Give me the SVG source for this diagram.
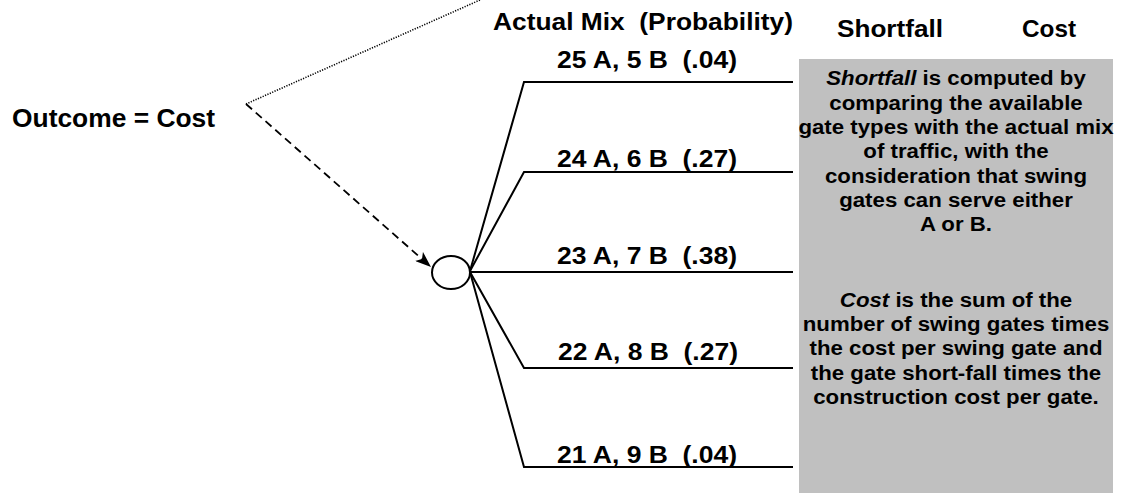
<svg xmlns="http://www.w3.org/2000/svg" width="1124" height="493" viewBox="0 0 1124 493">
<style>
text{font-family:"Liberation Sans",Arial,sans-serif;font-weight:bold;fill:#000;white-space:pre}
.lbl{font-size:24.5px}
.hdr{font-size:24px}
.box{font-size:21px;text-anchor:middle}
.ln{stroke:#000;stroke-width:2;fill:none}
</style>
<defs>
<marker id="ah" viewBox="0 0 16 12" refX="16" refY="6" markerWidth="16" markerHeight="12" markerUnits="userSpaceOnUse" orient="auto">
<path d="M0,0 L16,6 L0,12 L4,6 z" fill="#000"/>
</marker>
</defs>
<rect width="1124" height="493" fill="#fff"/>
<g id="headers">
<text class="hdr" x="493" y="30" textLength="300" lengthAdjust="spacingAndGlyphs">Actual Mix  (Probability)</text>
<text class="hdr" x="837" y="37" textLength="106" lengthAdjust="spacingAndGlyphs">Shortfall</text>
<text class="hdr" x="1022" y="37" textLength="54" lengthAdjust="spacingAndGlyphs">Cost</text>
</g>
<g id="outcome">
<text x="12" y="127" style="font-size:25.5px" textLength="203" lengthAdjust="spacingAndGlyphs">Outcome = Cost</text>
</g>
<g id="connectors">
<line x1="246" y1="104" x2="480" y2="0" stroke="#000" stroke-width="1.6" stroke-dasharray="1.2 1.4"/>
<line x1="246" y1="104" x2="431" y2="267" stroke="#000" stroke-width="1.8" stroke-dasharray="8 5" marker-end="url(#ah)"/>
<polyline class="ln" points="470,271 524,82 793,82"/>
<polyline class="ln" points="470,271 524,172 793,172"/>
<polyline class="ln" points="470,272 793,272"/>
<polyline class="ln" points="470,272 524,368 793,368"/>
<polyline class="ln" points="470,272 524,467 793,467"/>
</g>
<g id="chance">
<ellipse cx="451" cy="272.5" rx="19" ry="16.5" fill="#fff" stroke="#000" stroke-width="2"/>
</g>
<g id="labels">
<text class="lbl" x="557" y="68" textLength="180" lengthAdjust="spacingAndGlyphs">25 A, 5 B  (.04)</text>
<text class="lbl" x="557" y="167" textLength="180" lengthAdjust="spacingAndGlyphs">24 A, 6 B  (.27)</text>
<text class="lbl" x="557" y="264" textLength="180" lengthAdjust="spacingAndGlyphs">23 A, 7 B  (.38)</text>
<text class="lbl" x="558" y="360" textLength="180" lengthAdjust="spacingAndGlyphs">22 A, 8 B  (.27)</text>
<text class="lbl" x="557" y="463" textLength="180" lengthAdjust="spacingAndGlyphs">21 A, 9 B  (.04)</text>
</g>
<g id="note">
<rect x="799" y="59" width="314" height="434" fill="#c0c0c0"/>
<g transform="translate(956,0) scale(1.06,1)">
<text class="box" x="0" y="85"><tspan font-style="italic">Shortfall</tspan> is computed by</text>
<text class="box" x="0" y="110">comparing the available</text>
<text class="box" x="0" y="134">gate types with the actual mix</text>
<text class="box" x="0" y="158">of traffic, with the</text>
<text class="box" x="0" y="183">consideration that swing</text>
<text class="box" x="0" y="207">gates can serve either</text>
<text class="box" x="0" y="231">A or B.</text>
<text class="box" x="0" y="307"><tspan font-style="italic">Cost</tspan> is the sum of the</text>
<text class="box" x="0" y="331">number of swing gates times</text>
<text class="box" x="0" y="355">the cost per swing gate and</text>
<text class="box" x="0" y="380">the gate short-fall times the</text>
<text class="box" x="0" y="404">construction cost per gate.</text>
</g>
</g>
</svg>
